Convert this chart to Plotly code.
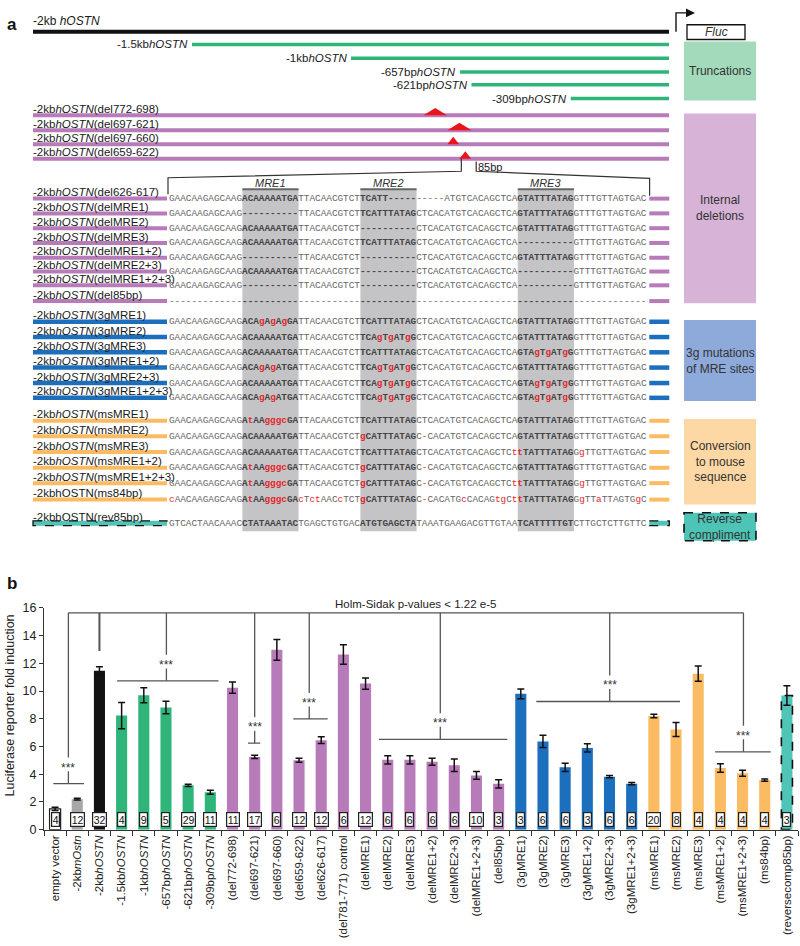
import plotly.graph_objects as go

W, H = 800, 946
SANS = "Liberation Sans, Arial, sans-serif"
MONO = "Liberation Mono, Courier New, monospace"

# ======================= PANEL b DATA =======================
categories = ["empty vector", "-2kb<i>mOstn</i>", "-2kb<i>hOSTN</i>", "-1.5kb<i>hOSTN</i>", "-1kb<i>hOSTN</i>",
              "-657bp<i>hOSTN</i>", "-621bp<i>hOSTN</i>", "-309bp<i>hOSTN</i>", "(del772-698)", "(del697-621)",
              "(del697-660)", "(del659-622)", "(del626-617)", "(del781-771) control", "(delMRE1)", "(delMRE2)",
              "(delMRE3)", "(delMRE1+2)", "(delMRE2+3)", "(delMRE1+2+3)", "(del85bp)", "(3gMRE1)", "(3gMRE2)",
              "(3gMRE3)", "(3gMRE1+2)", "(3gMRE2+3)", "(3gMRE1+2+3)", "(msMRE1)", "(msMRE2)", "(msMRE3)",
              "(msMRE1+2)", "(msMRE1+2+3)", "(ms84bp)", "(reversecomp85bp)"]
fold_induction = [1.5, 2.2, 11.46, 8.23, 9.7, 8.81, 3.2, 2.7, 10.25, 5.25, 12.98, 5.01, 6.46, 12.64, 10.54,
                  5.04, 5.04, 4.9, 4.65, 3.91, 3.31, 9.8, 6.37, 4.5, 5.9, 3.82, 3.32, 8.2, 7.23, 11.26,
                  4.45, 4.07, 3.58, 9.68]
sem = [0.12, 0.06, 0.3, 0.95, 0.55, 0.45, 0.08, 0.15, 0.4, 0.12, 0.75, 0.15, 0.25, 0.7, 0.4, 0.3, 0.3,
       0.25, 0.45, 0.28, 0.3, 0.35, 0.45, 0.3, 0.3, 0.08, 0.08, 0.12, 0.5, 0.55, 0.3, 0.22, 0.08, 0.7]
n_replicates = [4, 12, 32, 4, 9, 5, 29, 11, 11, 17, 6, 12, 12, 6, 12, 6, 6, 6, 6, 10, 3, 3, 6, 6, 3, 6, 6,
                20, 8, 4, 4, 4, 4, 3]
bar_group = ["empty", "mouse", "human"] + ["trunc"] * 5 + ["del"] * 13 + ["g3"] * 6 + ["ms"] * 6 + ["rev"]

sig_title = "Holm-Sidak p-values < 1.22 e-5"
sig_main_level = 15.65
sig_stem_x = [0.6, 2.0, 5.02, 9.0, 11.46, 17.37, 25.01, 31.04]
sig_level = [3.32, 12.9, 10.74, 6.24, 7.99, 6.52, 9.25, 5.62]
sig_span = [(-0.08, 1.3), None, (2.8, 7.37), (8.7, 9.25), (10.74, 12.29), (14.6, 20.39), (21.7, 28.18),
            (29.76, 32.27)]

# ======================= PANEL a DATA =======================
map_full_bp = -2000
trunc_names = ["-1.5kb<i>hOSTN</i>", "-1kb<i>hOSTN</i>", "-657bp<i>hOSTN</i>", "-621bp<i>hOSTN</i>",
               "-309bp<i>hOSTN</i>"]
trunc_start_bp = [-1500, -1000, -657, -621, -309]
del_names = ["-2kb<i>hOSTN</i>(del772-698)", "-2kb<i>hOSTN</i>(del697-621)", "-2kb<i>hOSTN</i>(del697-660)",
             "-2kb<i>hOSTN</i>(del659-622)"]
del_from_bp = [-772, -697, -697, -659]
del_to_bp = [-698, -621, -660, -622]

P1, M1, P2, M2 = "GAACAAGAGCAAG", "ACAAAAATGA", "TTACAACGTCT", "TCATTTATAG"
P3, M3, P4 = "CTCACATGTCACAGCTCA", "GTATTTATAG", "GTTTGTTAGTGAC"
D10 = "-" * 10
mre_names = ["MRE1", "MRE2", "MRE3"]
mre_cols = [(13, 23), (34, 44), (62, 72)]

seq_names = ["-2kb<i>hOSTN</i>(del626-617)", "-2kb<i>hOSTN</i>(delMRE1)", "-2kb<i>hOSTN</i>(delMRE2)",
             "-2kb<i>hOSTN</i>(delMRE3)", "-2kb<i>hOSTN</i>(delMRE1+2)", "-2kb<i>hOSTN</i>(delMRE2+3)",
             "-2kb<i>hOSTN</i>(delMRE1+2+3)", "-2kb<i>hOSTN</i>(del85bp)",
             "-2kb<i>hOSTN</i>(3gMRE1)", "-2kb<i>hOSTN</i>(3gMRE2)", "-2kb<i>hOSTN</i>(3gMRE3)",
             "-2kb<i>hOSTN</i>(3gMRE1+2)", "-2kb<i>hOSTN</i>(3gMRE2+3)", "-2kb<i>hOSTN</i>(3gMRE1+2+3)",
             "-2kb<i>hOSTN</i>(msMRE1)", "-2kb<i>hOSTN</i>(msMRE2)", "-2kb<i>hOSTN</i>(msMRE3)",
             "-2kb<i>hOSTN</i>(msMRE1+2)", "-2kb<i>hOSTN</i>(msMRE1+2+3)", "-2kbhOSTN(ms84bp)",
             "-2kbhOSTN(rev85bp)"]
seq_group = ["del"] * 8 + ["g3"] * 6 + ["ms"] * 6 + ["rev"]
# lowercase = mutated base (red), "_" = red deletion dash
seq_rows = [
    P1 + M1 + P2 + "TCATT" + D10 + "ATGTCACAGCTCA" + M3 + P4,
    P1 + D10 + P2 + M2 + P3 + M3 + P4,
    P1 + M1 + P2 + D10 + P3 + M3 + P4,
    P1 + M1 + P2 + M2 + P3 + D10 + P4,
    P1 + D10 + P2 + D10 + P3 + M3 + P4,
    P1 + M1 + P2 + D10 + P3 + D10 + P4,
    P1 + D10 + P2 + D10 + P3 + D10 + P4,
    "-" * 85,
    P1 + "ACAgAgAgGA" + P2 + M2 + P3 + M3 + P4,
    P1 + M1 + P2 + "TCAgTgATgG" + P3 + M3 + P4,
    P1 + M1 + P2 + M2 + P3 + "GTAgTgATgG" + P4,
    P1 + "ACAgAgATGA" + P2 + "TCAgTgATgG" + P3 + M3 + P4,
    P1 + M1 + P2 + "TCAgTgATgG" + P3 + "GTAgTgATgG" + P4,
    P1 + "ACAgAgATGA" + P2 + "TCAgTgATgG" + P3 + "GTAgTgATgG" + P4,
    P1 + "AtAAgggcGA" + P2 + M2 + P3 + M3 + P4,
    P1 + M1 + P2 + "gCATTTATAG" + "C_CACATGTCACAGCTCA" + M3 + P4,
    P1 + M1 + P2 + M2 + "CTCACATGTCACAGCTCt" + "tTATTTATAG" + "GgTTGTTAGTGAC",
    P1 + "AtAAgggcGA" + P2 + "gCATTTATAG" + "C_CACATGTCACAGCTCA" + M3 + P4,
    P1 + "AtAAgggcGA" + P2 + "gCATTTATAG" + "C_CACATGTCACAGCTCt" + "tTATTTATAG" + "GgTTGTTAGTGAC",
    "cAACAAGAGCAAG" + "AtAAgggcGA" + "cTctAACcTCT" + "gCATTTATAG" + "C_CACATGcCACAGtgCt" + "tTATTTATAG"
    + "GgTTaTTAGTGgC",
    "GTCACTAACAAACCTATAAATACTGAGCTGTGACATGTGAGCTATAAATGAAGACGTTGTAATCATTTTTGTCTTGCTCTTGTTC",
]
box_texts = ["Truncations", "Internal<br>deletions", "3g mutations<br>of MRE sites",
             "Conversion<br>to mouse<br>sequence", "Reverse<br>compliment"]
box_groups = ["trunc", "del", "g3", "ms", "rev"]

# ======================= STYLES =======================
bar_colors_map = {"empty": "#ffffff", "mouse": "#a7a7a7", "human": "#121212", "trunc": "#2fb57a",
                  "del": "#b87bb9", "g3": "#1c6fbd", "ms": "#fbbb63", "rev": "#50c4b6"}
box_colors_map = {"trunc": "#a3dabb", "del": "#d8b3d8", "g3": "#8eaadb", "ms": "#fdd8a5", "rev": "#4ec4b6"}
RED = "#e3262b"
SEQ_GRAY = "#666666"
SEQ_DARK = "#444444"
LINE_C = "#555555"

fig = go.Figure()

# ---------- panel b bars ----------
x_idx = list(range(len(categories)))
BAR_W = 0.5
fig.add_trace(go.Bar(
    x=x_idx, y=fold_induction, width=BAR_W,
    marker=dict(color=[bar_colors_map[g] for g in bar_group],
                line=dict(color="#222", width=[1.2 if g == "empty" else 0 for g in bar_group])),
    error_y=dict(type="data", array=sem, visible=True, color="#111", thickness=1.5, width=3.5),
    xaxis="x", yaxis="y", showlegend=False, hoverinfo="skip"))

for i, g in enumerate(bar_group):
    if g == "rev":
        fig.add_shape(type="rect", xref="x", yref="y", x0=i - BAR_W / 2, x1=i + BAR_W / 2, y0=0,
                      y1=fold_induction[i], line=dict(color="#111", width=1.6, dash="dash"))

for i, n in enumerate(n_replicates):
    fig.add_annotation(x=i, y=0.72, xref="x", yref="y", text=str(n), showarrow=False,
                       font=dict(family=SANS, size=10.5, color="#111"), bgcolor="white",
                       bordercolor="#222", borderwidth=1.2, borderpad=0.5)

# significance brackets
fig.add_shape(type="line", xref="x", yref="y", x0=sig_stem_x[0], x1=sig_stem_x[-1], y0=sig_main_level,
              y1=sig_main_level, line=dict(color=LINE_C, width=1.3))
for sx, lv, sp in zip(sig_stem_x, sig_level, sig_span):
    if sp is None:
        fig.add_shape(type="line", xref="x", yref="y", x0=sx, x1=sx, y0=sig_main_level, y1=lv,
                      line=dict(color=LINE_C, width=2))
        continue
    fig.add_shape(type="line", xref="x", yref="y", x0=sx, x1=sx, y0=sig_main_level, y1=lv + 1.88,
                  line=dict(color=LINE_C, width=1.3))
    fig.add_shape(type="line", xref="x", yref="y", x0=sx, x1=sx, y0=lv + 0.9, y1=lv,
                  line=dict(color=LINE_C, width=1.3))
    fig.add_shape(type="line", xref="x", yref="y", x0=sp[0], x1=sp[1], y0=lv, y1=lv,
                  line=dict(color=LINE_C, width=1.3))
    fig.add_annotation(x=sx, y=lv + 1.38, xref="x", yref="y", text="***", showarrow=False, yshift=-3,
                       font=dict(family=SANS, size=12, color="#333"))

fig.add_annotation(x=415, y=606, xref="x3", yref="y2", text=sig_title, showarrow=False,
                   font=dict(family=SANS, size=11.5, color="#222"))
fig.add_annotation(x=10, y=709, xref="x3", yref="y2", text="Luciferase reporter fold induction",
                   textangle=-90, showarrow=False, font=dict(family=SANS, size=12.5, color="#222"))

# ---------- panel a ----------
PX0, PXS = 669.0, 0.318            # x2 axis: bp -> pixel mapping used for axis range
BP_L, BP_R = (0 - PX0) / PXS, (W - PX0) / PXS

def bp2px(bp):
    return PX0 + PXS * bp

def line3(x0, x1, y, color, width, ref="x3"):
    fig.add_shape(type="line", xref=ref, yref="y2", x0=x0, x1=x1, y0=y, y1=y,
                  line=dict(color=color, width=width))

def text3(x, y, txt, size=11.5, anchor="left", ref="x3", color="#1a1a1a", fam=SANS, **kw):
    fig.add_annotation(x=x, y=y, xref=ref, yref="y2", text=txt, showarrow=False, xanchor=anchor,
                       yanchor="middle", borderpad=0, borderwidth=0,
                       font=dict(family=fam, size=size, color=color), **kw)

LEFT = bp2px(map_full_bp)
# full-length map line + promoter/Fluc
line3(map_full_bp, 0, 25, "#111", 4, ref="x2")
text3(LEFT, 14, "-2kb <i>hOSTN</i>", size=12)
fig.add_shape(type="path", xref="x3", yref="y2", path="M676,25 L676,6 L687,6",
              line=dict(color="#111", width=1.4))
fig.add_shape(type="path", xref="x3", yref="y2", path="M686,1.5 L695,6 L686,10.5 Z",
              fillcolor="#111", line=dict(width=0))
fig.add_shape(type="rect", xref="x3", yref="y2", x0=687, x1=745, y0=18, y1=33, fillcolor="white",
              line=dict(color="#111", width=1.3))
text3(716, 25.5, "<i>Fluc</i>", size=12, anchor="center", color="#333")

trunc_y = [38, 52, 66, 79, 93]
for name, st, y in zip(trunc_names, trunc_start_bp, trunc_y):
    line3(st, 0, y, bar_colors_map["trunc"], 3.5, ref="x2")
    text3(st, y, name, ref="x2", anchor="right", xshift=-4)

del_y = [110, 125, 139.3, 154]
for name, a, b, y in zip(del_names, del_from_bp, del_to_bp, del_y):
    line3(map_full_bp, 0, y, bar_colors_map["del"], 4, ref="x2")
    text3(LEFT, y - 6.5, name)
    fig.add_shape(type="path", xref="x2", yref="y2",
                  path=f"M{a},{y} L{(a + b) / 2},{y - 7.5} L{b},{y} Z",
                  fillcolor="#e8161b", line=dict(width=0))

# sequence block geometry
SEQ_X0 = 169.3
CW = 5.62
SEQ_X1 = SEQ_X0 + 85 * CW
STUB_L = 167
STUB_R0, STUB_R1 = 649.3, 669.3

# zoom connector from last deletion
ta, tb = bp2px(del_from_bp[-1]), bp2px(del_to_bp[-1])
tm = (ta + tb) / 2 - 4
fig.add_shape(type="path", xref="x3", yref="y2",
              path=f"M{tm},{del_y[-1]} L{tm},166.7 L{SEQ_X0 - 1.3},173.3 L{SEQ_X0 - 1.3},190",
              line=dict(color="#333", width=1.2))
fig.add_shape(type="path", xref="x3", yref="y2",
              path=f"M{tb + 5},156.7 L{tb + 5},166.7 L{SEQ_X1 + 2.6},174 L{SEQ_X1 + 2.6},191.7",
              line=dict(color="#333", width=1.2))
text3(tb + 6.5, 162.7, "85bp", size=11)

seq_y = [194.5, 209.5, 224.5, 239.5, 254.5, 268.5, 282.5, 298.5, 319.5, 335, 350.5, 366, 381.7, 396.7,
         420, 435.7, 451.7, 467.7, 483.3, 500, 524]

# MRE shading & labels
for nm, (a, b) in zip(mre_names, mre_cols):
    xa, xb = SEQ_X0 + a * CW, SEQ_X0 + b * CW
    fig.add_shape(type="rect", xref="x3", yref="y2", x0=xa, x1=xb, y0=185, y1=532, fillcolor="#c4c4c7",
                  line=dict(width=0), layer="below")
    line3(xa, xb, 185, "#666", 2)
    text3((xa + xb) / 2, 178.5, f"<i>{nm}</i>", size=11, anchor="center", color="#333")


def seq_html(s):
    runs = []
    for i, ch in enumerate(s):
        bold = any(a <= i < b for a, b in mre_cols)
        red = ch.islower() or ch == "_"
        c = "-" if ch == "_" else ch
        key = (bold, red)
        if runs and runs[-1][0] == key:
            runs[-1][1] += c
        else:
            runs.append([key, c])
    out = ""
    for (bold, red), txt in runs:
        col = RED if red else (SEQ_DARK if bold else SEQ_GRAY)
        t = f"<span style='color:{col}'>{txt}</span>"
        out += f"<b>{t}</b>" if bold else t
    return out


for name, grp, s, y in zip(seq_names, seq_group, seq_rows, seq_y):
    if grp == "rev":
        for x0, x1 in [(LEFT, STUB_L), (STUB_R0, STUB_R1)]:
            fig.add_shape(type="rect", xref="x3", yref="y2", x0=x0, x1=x1, y0=y - 2.5, y1=y + 2.5,
                          fillcolor=bar_colors_map["rev"], line=dict(color="#111", width=1.3, dash="dash"))
    else:
        wdt = 4.5 if grp == "g3" else 4
        line3(LEFT, STUB_L, y, bar_colors_map[grp], wdt)
        line3(STUB_R0, STUB_R1, y, bar_colors_map[grp], wdt)
    text3(LEFT, y - 6.5, name)
    text3(SEQ_X0, y, seq_html(s), size=CW / 0.6, fam=MONO)

# right category boxes
box_y = [(35, 95), (108, 300.7), (317.7, 400), (418.3, 505), (513.3, 541.7)]
for txt, g, (y0, y1) in zip(box_texts, box_groups, box_y):
    dash = g == "rev"
    fig.add_shape(type="rect", xref="x3", yref="y2", x0=684, x1=756, y0=y0, y1=y1,
                  fillcolor=box_colors_map[g],
                  line=dict(color="#111" if dash else box_colors_map[g], width=1.6 if dash else 0,
                            dash="dash" if dash else "solid"))
    text3(720, (y0 + y1) / 2, txt, size=12, anchor="center", color="#333")

# panel letters
text3(12, 18, "<b>a</b>", size=17, anchor="center", color="#111")
text3(12, 585, "<b>b</b>", size=17, anchor="center", color="#111")

# dummy traces to instantiate overlay axes
fig.add_trace(go.Scatter(x=[map_full_bp], y=[0], xaxis="x2", yaxis="y2", mode="markers",
                         marker=dict(opacity=0), showlegend=False, hoverinfo="skip"))
fig.add_trace(go.Scatter(x=[0], y=[0], xaxis="x3", yaxis="y2", mode="markers",
                         marker=dict(opacity=0), showlegend=False, hoverinfo="skip"))

fig.update_layout(
    width=W, height=H, margin=dict(l=0, r=0, t=0, b=0),
    paper_bgcolor="white", plot_bgcolor="rgba(0,0,0,0)",
    font=dict(family=SANS, color="#222"),
    showlegend=False,
    xaxis=dict(domain=[44 / W, 798 / W], range=[-0.5, 33.5], tickvals=x_idx, ticktext=categories,
               tickangle=-90, ticks="", showline=True, linecolor="#333", linewidth=1.2, showgrid=False,
               zeroline=False, tickfont=dict(family=SANS, size=11.5, color="#222"), anchor="y",
               minor=dict(tick0=-0.5, dtick=1, ticks="outside", ticklen=5, tickcolor="#333", tickwidth=1,
                          showgrid=False)),
    yaxis=dict(domain=[1 - 835 / H, 1 - 610 / H], range=[0, 16], dtick=2, ticks="outside", ticklen=4,
               tickcolor="#333", showline=True, linecolor="#333", linewidth=1.2, showgrid=False,
               zeroline=False, tickfont=dict(family=SANS, size=12.5, color="#222"), anchor="x"),
    xaxis2=dict(domain=[0, 1], range=[BP_L, BP_R], anchor="y2", visible=False),
    xaxis3=dict(domain=[0, 1], range=[0, W], anchor="y2", visible=False),
    yaxis2=dict(domain=[0, 1], range=[H, 0], anchor="x2", visible=False),
)

fig.write_html("out.html", config={"displayModeBar": False},
               post_script="document.body.style.margin='0';")
